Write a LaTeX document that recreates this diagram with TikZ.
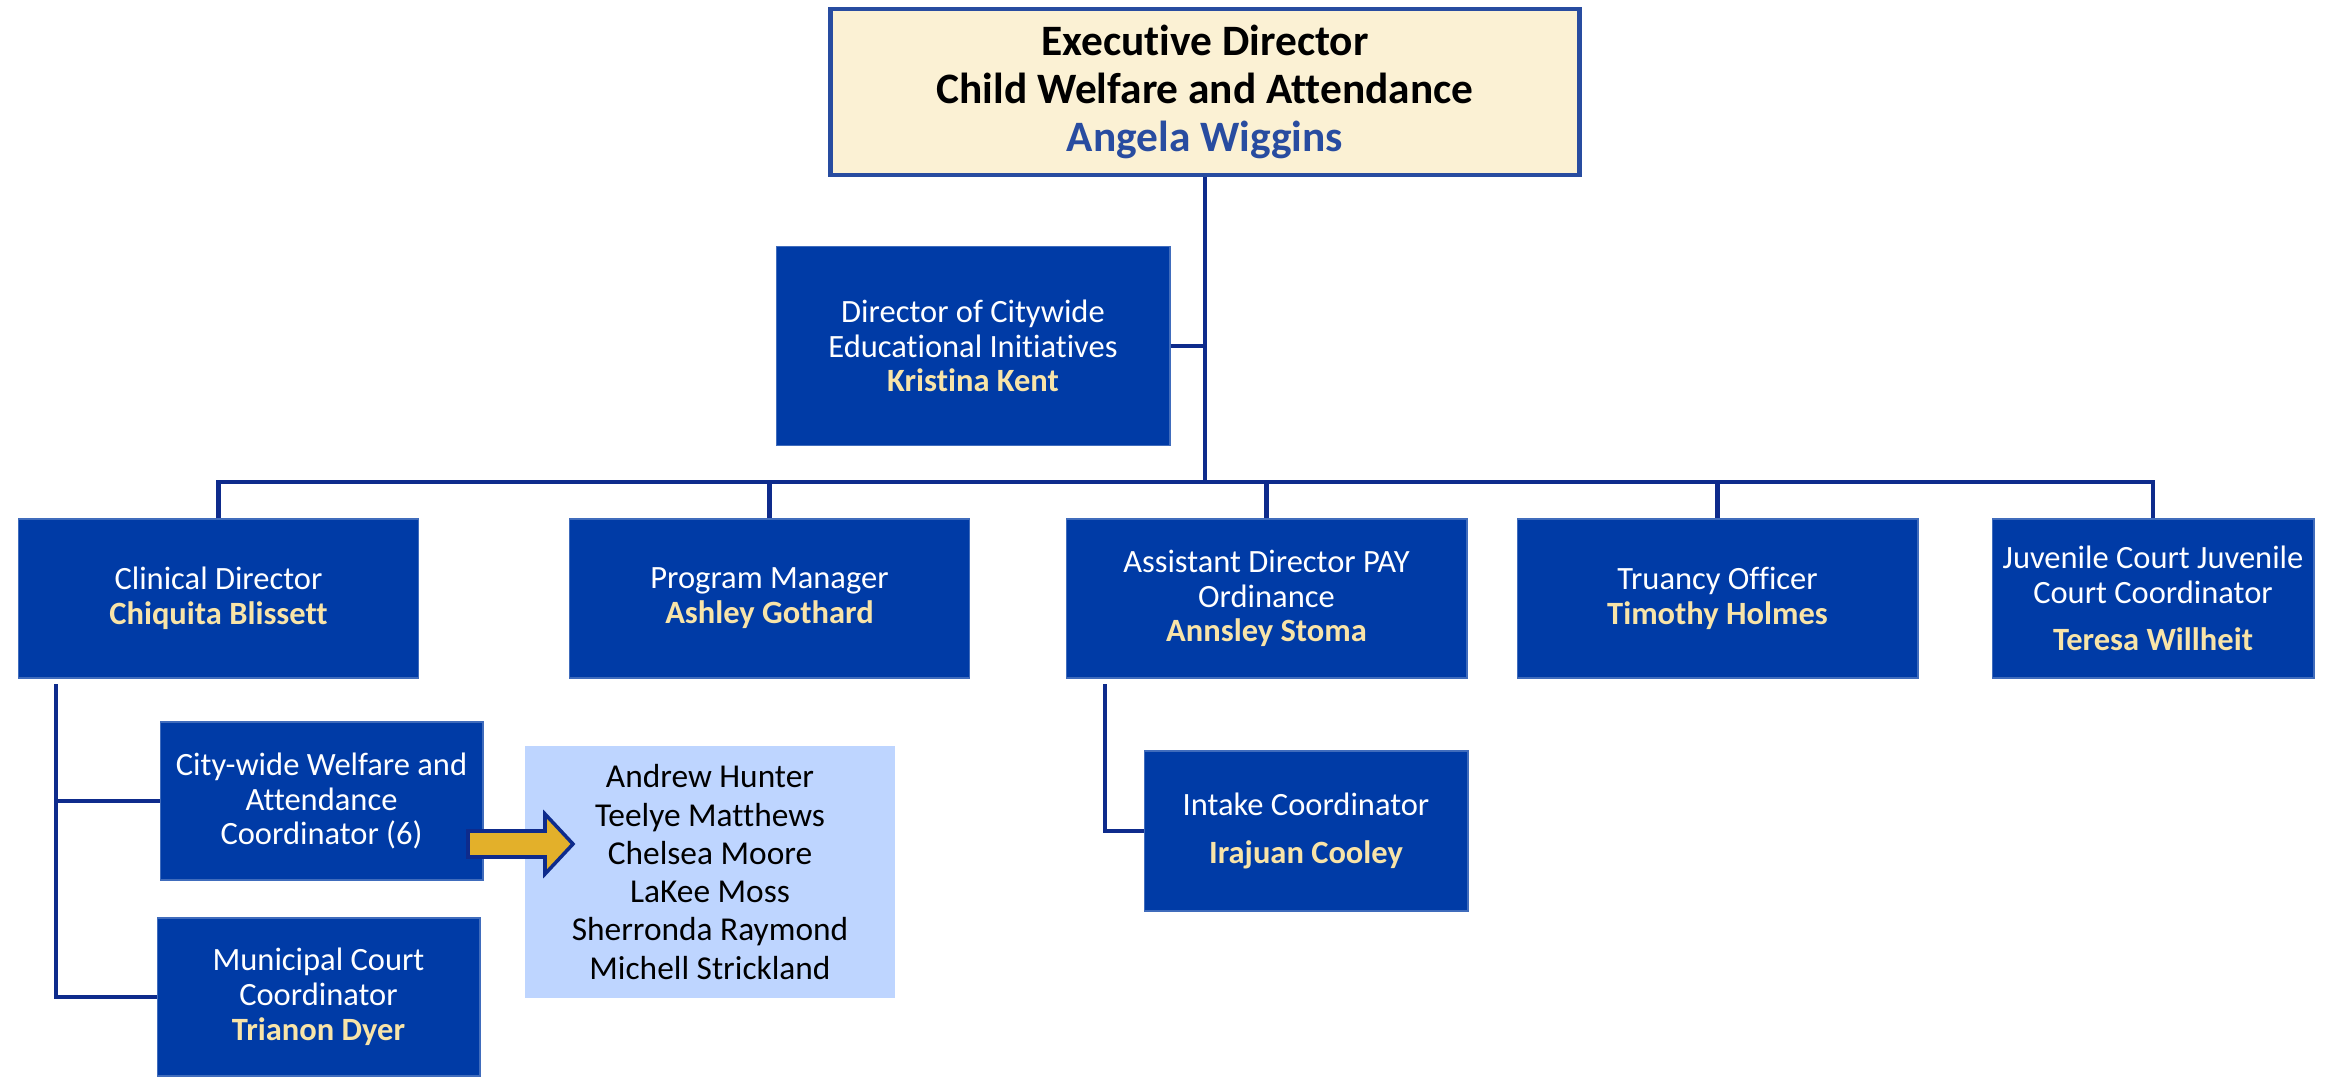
\documentclass[tikz,border=0pt]{standalone}
\usepackage{fontspec}
\setmainfont[Ligatures=NoCommon]{Carlito}
\usepackage{tikz}
\definecolor{boxblue}{RGB}{0,59,166}
\definecolor{namegold}{RGB}{248,228,168}
\definecolor{topcream}{RGB}{251,241,212}
\definecolor{topblue}{RGB}{40,76,160}
\definecolor{linenavy}{RGB}{14,43,140}
\definecolor{listblue}{RGB}{190,213,255}
\definecolor{arrowgold}{RGB}{227,176,42}
\newcommand{\who}[1]{\textcolor{namegold}{\bfseries #1}}

\begin{document}
\begin{tikzpicture}[x=0.02cm, y=-0.02cm,
	post/.style={fill=boxblue, draw=boxblue!75!white, line width=0.6pt, text=white, align=center, inner sep=0pt, font=\fontsize{18.5}{19.8}\selectfont},
	link/.style={draw=linenavy, line width=2.6pt},
	]
	\useasboundingbox (0,0) rectangle (2330,1081);
	\node [fill=topcream, draw=topblue, line width=2.8pt, minimum width=15cm, minimum height=3.32cm, align=center, font=\fontsize{24.7}{27.5}\selectfont\bfseries] (top) at (1205,92) {Executive Director\\Child Welfare and Attendance\\\textcolor{topblue}{Angela Wiggins}};
	\node [post, minimum width=7.88cm, minimum height=3.98cm] (dir) at (973,346) {Director of Citywide\\Educational Initiatives\\\who{Kristina Kent}};
	\node [post, minimum width=8.02cm, minimum height=3.18cm] (clin) at (218.5,598.5) {Clinical Director\\\who{Chiquita Blissett}};
	\node [post, minimum width=8.02cm, minimum height=3.18cm] (prog) at (769.5,598.5) {Program Manager\\\who{Ashley Gothard}};
	\node [post, minimum width=8.02cm, minimum height=3.18cm] (asst) at (1266.5,598.5) {Assistant Director PAY\\Ordinance\\\who{Annsley Stoma}};
	\node [post, minimum width=8.02cm, minimum height=3.18cm] (tru) at (1717.5,598.5) {Truancy Officer\\\who{Timothy Holmes}};
	\node [post, minimum width=6.44cm, minimum height=3.18cm] (juv) at (2153,598.5) {Juvenile Court Juvenile\\Court Coordinator\\[7pt]\who{Teresa Willheit}};
	\node [post, minimum width=6.46cm, minimum height=3.16cm] (city) at (321.5,801) {City-wide Welfare and\\Attendance\\Coordinator (6)};
	\node [post, minimum width=6.46cm, minimum height=3.16cm] (muni) at (318.5,997) {Municipal Court\\Coordinator\\\who{Trianon Dyer}};
	\node [post, minimum width=6.48cm, minimum height=3.2cm] (intake) at (1306,831) {Intake Coordinator\\[8pt]\who{Irajuan Cooley}};
	\node [fill=listblue, minimum width=7.42cm, minimum height=5.04cm, align=center, inner sep=0pt, font=\fontsize{19}{21.8}\selectfont] (team) at (710,872) {Andrew Hunter\\Teelye Matthews\\Chelsea Moore\\LaKee Moss\\Sherronda Raymond\\Michell Strickland};
	\coordinate (bus) at (1205,482);
	\coordinate (clinstem) at (56,684);
	\coordinate (asststem) at (1105,684);
	\draw [link] (top.south) -- (bus);
	\draw [link] (dir.east) -- (dir.east -| bus);
	\draw [link] (clin.north) |- (juv.north |- bus) -- (juv.north);
	\foreach \n in {prog,asst,tru}
		\draw [link] (\n.north |- bus) -- (\n.north);
	\draw [link] (clinstem) |- (muni.west);
	\draw [link] (clinstem |- city.west) -- (city.west);
	\draw [link] (asststem) |- (intake.west);
	\draw [draw=linenavy, line width=2pt, line join=miter, fill=arrowgold] (468,831) -- (545,831) -- (545,814) -- (573,844) -- (545,874) -- (545,857) -- (468,857) -- cycle;
\end{tikzpicture}
\end{document}
